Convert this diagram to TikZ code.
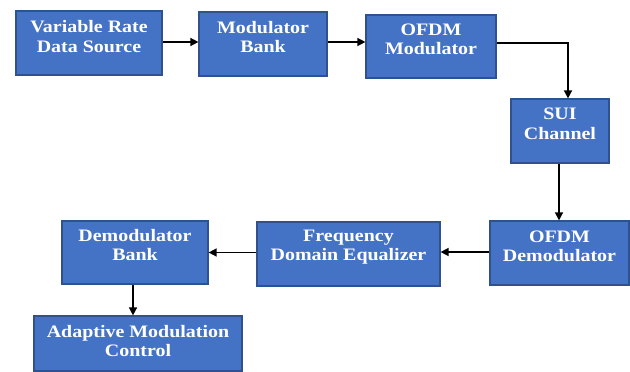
\documentclass[tikz,border=0pt]{standalone}
\usepackage{fontspec}
\setmainfont{Liberation Serif}[FakeStretch=1.14]
\usetikzlibrary{arrows.meta}
\definecolor{boxfill}{HTML}{4472C4}
\definecolor{boxline}{HTML}{2F528F}
\tikzset{
  blk/.style={draw=boxline, fill=boxfill, line width=1.2pt, inner sep=0pt},
  lbl/.style={text=white, font=\fontsize{17.5}{19.5}\selectfont\bfseries, align=center, inner sep=0pt},
  arr/.style={draw=black, line width=1.5pt, -{Triangle[length=8pt,width=8pt]}}
}
\begin{document}
\begin{tikzpicture}[x=1pt,y=-1pt]
\useasboundingbox (0,0) rectangle (630,372);
% boxes
\node[blk, minimum width=146pt, minimum height=64pt] (src) at (89,43) {};
\node[blk, minimum width=128pt, minimum height=64pt] (mod) at (263,44) {};
\node[blk, minimum width=130pt, minimum height=63pt] (ofdm) at (431,46.5) {};
\node[blk, minimum width=98pt, minimum height=64pt] (sui) at (560,131) {};
\node[blk, minimum width=139pt, minimum height=64pt] (demod) at (559.5,253) {};
\node[blk, minimum width=183pt, minimum height=64pt] (freq) at (348.5,254) {};
\node[blk, minimum width=146pt, minimum height=63pt] (dbank) at (135,252.5) {};
\node[blk, minimum width=208pt, minimum height=55pt] (adapt) at (138,343.5) {};
% labels
\node[lbl] (srct) at (89,36.5) {Variable Rate\\Data Source};
\node[lbl] (modt) at (263,37) {Modulator\\Bank};
\node[lbl] (ofdmt) at (431,39.5) {OFDM\\Modulator};
\node[lbl] (suit) at (560,124) {SUI\\Channel};
\node[lbl] (demodt) at (559.5,246.5) {OFDM\\Demodulator};
\node[lbl] (freqt) at (348.5,247) {Frequency\\Domain Equalizer};
\node[lbl] (dbankt) at (135,245) {Demodulator\\Bank};
\node[lbl] (adaptt) at (138,341) {Adaptive Modulation\\Control};
% connectors
\coordinate (c1) at (568,43);
\draw[arr] ([yshift=1pt]src.east) -- ([yshift=1pt]src.east -| mod.west);
\draw[arr] ([yshift=2pt]mod.east) -- ([yshift=2pt]mod.east -| ofdm.west);
\draw[arr] (ofdm.east |- c1) -- (c1) -- (c1 |- sui.north);
\draw[arr] ([xshift=-1pt]sui.south) -- ([xshift=-1pt]sui.south |- demod.north);
\draw[arr] ([yshift=1pt]demod.west) -- ([yshift=1pt]demod.west -| freq.east);
\draw[arr] (freq.west |- dbank.east) -- (dbank.east);
\draw[arr] ([xshift=-2pt]dbank.south) -- ([xshift=-2pt]dbank.south |- adapt.north);
\end{tikzpicture}
\end{document}
